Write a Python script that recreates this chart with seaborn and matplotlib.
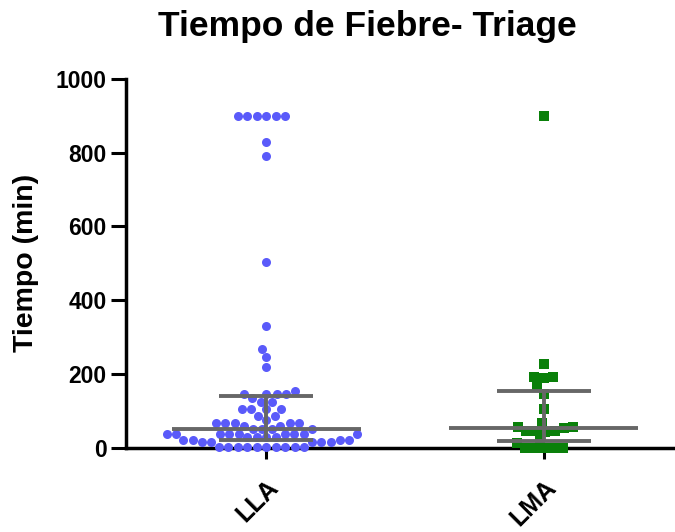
import numpy as np
import pandas as pd
import matplotlib
matplotlib.use("Agg")
import matplotlib.pyplot as plt
import seaborn as sns

# values (minutes)
groups = ["LLA", "LMA"]
lla_values = ([900] * 6 + [830, 791, 503, 331, 268, 246, 219, 154] + [146] * 4
              + [136] + [125] * 2 + [105] * 4 + [87] * 2 + [76] + [67] * 5 + [60] * 2
              + [51] * 4 + [38] * 9 + [29] * 4 + [22] * 4 + [17] * 5 + [2] * 10)
lma_values = [900, 228, 193, 193, 189, 164, 146, 106, 67, 58, 56, 55,
              46, 46, 45, 44, 23, 13, 0, 0, 0, 0, 0]
y_ticks = [0, 200, 400, 600, 800, 1000]

df = pd.DataFrame({
    "grupo": ["LLA"] * len(lla_values) + ["LMA"] * len(lma_values),
    "tiempo": lla_values + lma_values,
})

sns.set_style("ticks")
plt.rcParams["font.family"] = ["Liberation Sans", "DejaVu Sans"]
plt.rcParams["font.weight"] = "bold"
plt.rcParams["text.color"] = "black"
plt.rcParams["axes.labelcolor"] = "black"
plt.rcParams["axes.edgecolor"] = "black"
plt.rcParams["xtick.color"] = "black"
plt.rcParams["ytick.color"] = "black"

fig = plt.figure(figsize=(6.75, 5.32), dpi=100)
ax = fig.add_axes([0.187, 0.158, 0.81, 0.694])

sns.swarmplot(data=df[df["grupo"] == "LLA"], x="grupo", y="tiempo", order=groups,
              color="#5a5afa", size=6.5, marker="o", linewidth=0, ax=ax)
sns.swarmplot(data=df[df["grupo"] == "LMA"], x="grupo", y="tiempo", order=groups,
              color="#0a800a", size=6.5, marker="s", linewidth=0, ax=ax)
for coll in ax.collections:
    coll.set_clip_on(False)

# median with interquartile range
for i, vals in enumerate([lla_values, lma_values]):
    q1, med, q3 = np.percentile(vals, [25, 50, 75])
    ax.hlines(med, i - 0.34, i + 0.34, color="#676767", lw=2.8, zorder=5)
    ax.hlines([q1, q3], i - 0.17, i + 0.17, color="#676767", lw=2.8, zorder=5)
    ax.vlines(i, q1, q3, color="#676767", lw=2.8, zorder=5)

ax.set_xlim(-0.505, 1.466)
ax.set_ylim(0, 1000)
ax.set_yticks(y_ticks)
ax.set_xlabel("")
ax.set_ylabel("Tiempo (min)", fontsize=20.5, fontweight="bold", labelpad=12)
ax.tick_params(axis="y", direction="out", length=11, width=2.2, labelsize=16.5, pad=3)
ax.tick_params(axis="x", direction="out", length=8, width=2.2, labelsize=18, pad=12)
for lab in ax.get_xticklabels():
    lab.set_rotation(45)
    lab.set_ha("right")
    lab.set_va("top")
    lab.set_rotation_mode("anchor")
    lab.set_fontweight("bold")
for lab in ax.get_yticklabels():
    lab.set_fontweight("bold")
sns.despine(ax=ax)
ax.spines["left"].set_linewidth(2.5)
ax.spines["bottom"].set_linewidth(2.5)

fig.text(0.545, 0.932, "Tiempo de Fiebre- Triage", ha="center", va="baseline",
         fontsize=25.5, fontweight="bold")

fig.savefig("out.png", dpi=100)
